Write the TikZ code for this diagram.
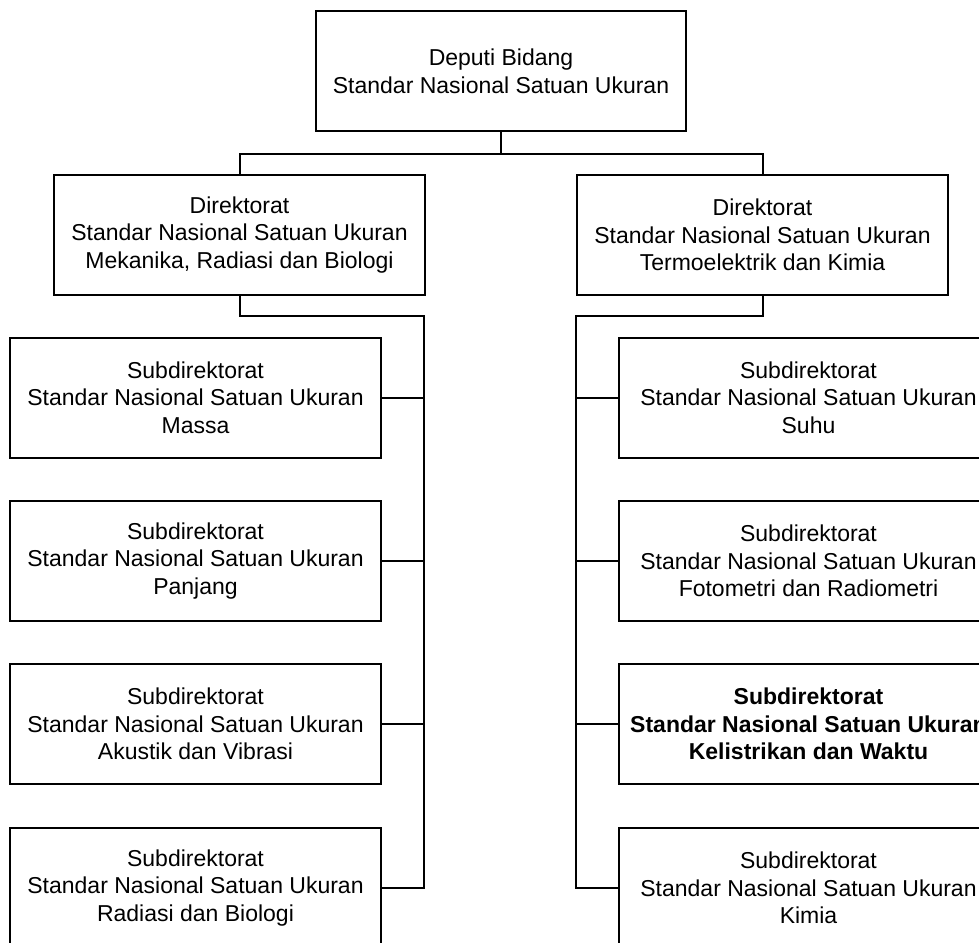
\documentclass[tikz,border=0pt]{standalone}
\usepackage{fontspec}
\setmainfont{Liberation Sans}
\begin{document}
\begin{tikzpicture}[x=1pt,y=-1pt,
  box/.style={draw, line width=2pt, minimum width=371pt, minimum height=120pt,
    align=center, inner sep=0pt, font=\fontsize{23}{27.7}\selectfont},
  rbox/.style={box, minimum width=379pt},
  wire/.style={line width=2pt}]
\useasboundingbox (0,0) rectangle (979,942);
\clip (0,0) rectangle (979,942);
\fill[white] (0,0) rectangle (979,942);
% top
\node[box, minimum width=370pt] (dep) at (501,71) {Deputi Bidang\\Standar Nasional Satuan Ukuran};
% directors
\node[box] (dL) at (239.5,235) {Direktorat\\Standar Nasional Satuan Ukuran\\Mekanika, Radiasi dan Biologi};
\node[box] (dR) at (762.5,235) {Direktorat\\Standar Nasional Satuan Ukuran\\Termoelektrik dan Kimia};
% left subdirectorates
\node[box] (sL1) at (195.5,397.5) {Subdirektorat\\Standar Nasional Satuan Ukuran\\Massa};
\node[box] (sL2) at (195.5,561) {Subdirektorat\\Standar Nasional Satuan Ukuran\\Panjang};
\node[box] (sL3) at (195.5,724) {Subdirektorat\\Standar Nasional Satuan Ukuran\\Akustik dan Vibrasi};
\node[box] (sL4) at (195.5,888) {Subdirektorat\\Standar Nasional Satuan Ukuran\\Radiasi dan Biologi};
% right subdirectorates
\node[rbox] (sR1) at (808.5,397.5) {Subdirektorat\\Standar Nasional Satuan Ukuran\\Suhu};
\node[rbox] (sR2) at (808.5,561) {Subdirektorat\\Standar Nasional Satuan Ukuran\\Fotometri dan Radiometri};
\node[rbox, font=\fontsize{23}{27.7}\selectfont\bfseries] (sR3) at (808.5,724) {Subdirektorat\\Standar Nasional Satuan Ukuran\\Kelistrikan dan Waktu};
\node[rbox] (sR4) at (808.5,888) {Subdirektorat\\Standar Nasional Satuan Ukuran\\Kimia};
% connectors top
\coordinate (jt) at (501,154);
\draw[wire] (dep.south) -- (jt);
\draw[wire] (jt) -| (dL.north);
\draw[wire] (jt) -| (dR.north);
% left bus
\coordinate (busL) at (424,316);
\draw[wire] (dL.south) |- (busL) -- (busL |- sL4.east) -- (sL4.east);
\draw[wire] (sL1.east) -- (sL1.east -| busL);
\draw[wire] (sL2.east) -- (sL2.east -| busL);
\draw[wire] (sL3.east) -- (sL3.east -| busL);
% right bus
\coordinate (busR) at (576,316);
\draw[wire] (dR.south) |- (busR) -- (busR |- sR4.west) -- (sR4.west);
\draw[wire] (sR1.west) -- (sR1.west -| busR);
\draw[wire] (sR2.west) -- (sR2.west -| busR);
\draw[wire] (sR3.west) -- (sR3.west -| busR);
\end{tikzpicture}
\end{document}
